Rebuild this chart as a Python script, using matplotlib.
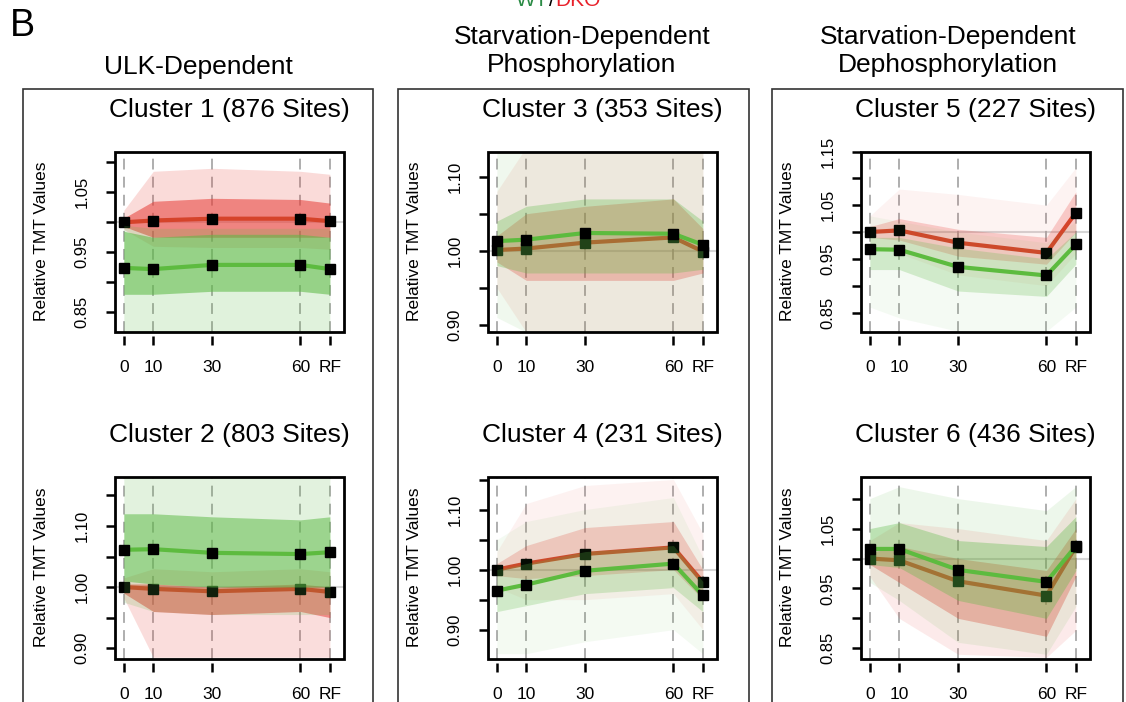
import numpy as np
import matplotlib.pyplot as plt
from matplotlib.patches import Rectangle

plt.rcParams['font.family'] = ['Liberation Sans', 'DejaVu Sans']

# time points (min of starvation, RF = refed) plotted on a numeric axis
time_pos = [0, 10, 30, 60, 70]
time_labels = ['0', '10', '30', '60', 'RF']

# --- cluster means (WT = green, DKO = red) ---
c1_wt = [0.924, 0.922, 0.929, 0.929, 0.922]
c1_dko = [1.000, 1.003, 1.006, 1.006, 1.002]
c2_wt = [1.061, 1.062, 1.056, 1.054, 1.057]
c2_dko = [1.000, 0.997, 0.993, 0.997, 0.992]
c3_wt = [1.013, 1.015, 1.024, 1.023, 1.008]
c3_dko = [1.001, 1.003, 1.011, 1.018, 0.999]
c4_wt = [0.965, 0.975, 0.998, 1.010, 0.957]
c4_dko = [1.000, 1.010, 1.026, 1.037, 0.979]
c5_wt = [0.968, 0.967, 0.935, 0.919, 0.977]
c5_dko = [1.000, 1.003, 0.980, 0.961, 1.036]
c6_wt = [1.016, 1.016, 0.981, 0.961, 1.021]
c6_dko = [1.000, 0.997, 0.962, 0.938, 1.020]

site_counts = [876, 803, 353, 231, 227, 436]

# --- rough spread of the individual site traces (lo, hi) ---
c1_wt_inner = ([0.880, 0.880, 0.885, 0.885, 0.880], [0.985, 0.975, 0.980, 0.980, 0.975])
c1_wt_outer = ([0.800, 0.800, 0.800, 0.800, 0.800], [0.995, 0.990, 0.990, 0.990, 0.990])
c1_dko_inner = ([0.993, 0.975, 0.975, 0.975, 0.975], [1.007, 1.035, 1.040, 1.038, 1.032])
c1_dko_outer = ([0.988, 0.960, 0.958, 0.958, 0.955], [1.020, 1.085, 1.090, 1.085, 1.080])

c2_wt_inner = ([1.010, 1.005, 1.000, 1.000, 1.000], [1.120, 1.120, 1.115, 1.110, 1.115])
c2_wt_outer = ([0.975, 0.960, 0.955, 0.955, 0.955], [1.190, 1.190, 1.190, 1.190, 1.190])
c2_dko_inner = ([0.990, 0.960, 0.955, 0.960, 0.950], [1.005, 1.005, 1.000, 1.005, 1.000])
c2_dko_outer = ([0.982, 0.885, 0.885, 0.885, 0.885], [1.015, 1.030, 1.025, 1.030, 1.025])

c3_wt_inner = ([0.980, 0.970, 0.970, 0.970, 0.975], [1.040, 1.060, 1.070, 1.070, 1.040])
c3_wt_outer = ([0.910, 0.890, 0.890, 0.890, 0.890], [1.140, 1.140, 1.140, 1.140, 1.140])
c3_dko_inner = ([0.985, 0.960, 0.960, 0.960, 0.970], [1.020, 1.050, 1.060, 1.070, 1.030])
c3_dko_outer = ([0.950, 0.890, 0.890, 0.890, 0.890], [1.080, 1.140, 1.140, 1.140, 1.140])

c4_wt_inner = ([0.930, 0.940, 0.960, 0.970, 0.930], [1.000, 1.010, 1.030, 1.040, 0.980])
c4_wt_outer = ([0.860, 0.860, 0.880, 0.900, 0.860], [1.050, 1.080, 1.100, 1.120, 1.020])
c4_dko_inner = ([0.990, 0.985, 0.990, 1.000, 0.950], [1.010, 1.040, 1.070, 1.080, 1.000])
c4_dko_outer = ([0.970, 0.950, 0.950, 0.960, 0.900], [1.030, 1.110, 1.140, 1.150, 1.060])

c5_wt_inner = ([0.930, 0.930, 0.890, 0.880, 0.940], [0.990, 0.990, 0.970, 0.950, 1.000])
c5_wt_outer = ([0.860, 0.840, 0.815, 0.815, 0.860], [1.030, 1.020, 1.000, 0.980, 1.020])
c5_dko_inner = ([0.990, 0.985, 0.955, 0.940, 1.000], [1.010, 1.025, 1.005, 0.990, 1.075])
c5_dko_outer = ([0.975, 0.960, 0.920, 0.900, 0.960], [1.030, 1.080, 1.070, 1.050, 1.120])

c6_wt_inner = ([0.990, 0.985, 0.930, 0.900, 0.980], [1.050, 1.060, 1.030, 1.020, 1.070])
c6_wt_outer = ([0.960, 0.930, 0.860, 0.840, 0.920], [1.100, 1.120, 1.100, 1.080, 1.120])
c6_dko_inner = ([0.990, 0.960, 0.900, 0.870, 0.970], [1.010, 1.020, 1.000, 0.980, 1.050])
c6_dko_outer = ([0.970, 0.900, 0.840, 0.835, 0.880], [1.030, 1.060, 1.050, 1.030, 1.100])

titles = ['Cluster 1 (876 Sites)', 'Cluster 2 (803 Sites)', 'Cluster 3 (353 Sites)',
          'Cluster 4 (231 Sites)', 'Cluster 5 (227 Sites)', 'Cluster 6 (436 Sites)']
group_titles = ['ULK-Dependent', 'Starvation-Dependent\nPhosphorylation',
                'Starvation-Dependent\nDephosphorylation']

GREEN = '#5cba45'
GREEN_MEAN = '#5dbb3f'
RED = '#e8403a'
RED_MEAN = '#d5432a'

W, H = 1126, 702
fig = plt.figure(figsize=(W / 100, H / 100), dpi=100)


def px_axes(left, top, width, height):
    return fig.add_axes([left / W, 1 - (top + height) / H, width / W, height / H])


def draw_panel(ax, wt, dko, wt_in, wt_out, dko_in, dko_out, ylim, yticks, ylabs, title, n):
    # bottom ticks sit a little below the box (set first: it resets the ticks)
    ax.spines['bottom'].set_position(('outward', 3))
    for s in ax.spines.values():
        s.set_visible(False)

    ax.set_xlim(-3, 74.8)
    ax.set_ylim(*ylim)
    ax.axhline(1.0, color='#d6d6d6', lw=1.5, zorder=0.5)
    for x in time_pos:
        ax.axvline(x, color='#a8a8a8', lw=1.3, ls=(0, (6, 4)), zorder=0.6)

    # more sites -> denser cloud of traces
    a_out = 0.02 + 0.17 * n / 876
    a_in = 0.12 + 0.44 * n / 876

    # DKO traces first, then WT on top (as in the original R plot)
    ax.fill_between(time_pos, dko_out[0], dko_out[1], color=RED, alpha=a_out, lw=0, zorder=1.0)
    ax.fill_between(time_pos, dko_in[0], dko_in[1], color=RED, alpha=a_in, lw=0, zorder=1.1)
    ax.plot(time_pos, dko, color=RED_MEAN, lw=3, zorder=1.3)
    ax.plot(time_pos, dko, ls='none', marker='s', ms=7.5, color='black', zorder=1.35)

    ax.fill_between(time_pos, wt_out[0], wt_out[1], color=GREEN, alpha=a_out, lw=0, zorder=1.5)
    ax.fill_between(time_pos, wt_in[0], wt_in[1], color=GREEN, alpha=a_in, lw=0, zorder=1.6)
    ax.plot(time_pos, wt, color=GREEN_MEAN, lw=3, zorder=1.8)
    ax.plot(time_pos, wt, ls='none', marker='s', ms=7.5, color='black', zorder=1.85)

    ax.set_xticks(time_pos)
    ax.set_xticklabels(time_labels, fontsize=12.5)
    ax.set_yticks(yticks)
    ax.set_yticklabels(ylabs, fontsize=12, rotation=90, va='center')
    ax.tick_params(axis='both', direction='out', length=6.5, width=1.8, color='black')
    ax.tick_params(axis='x', pad=11)
    ax.tick_params(axis='y', pad=12)

    ax.add_patch(Rectangle((0, 0), 1, 1, transform=ax.transAxes, fill=False,
                           lw=2, ec='black', zorder=5, clip_on=False))

    ax.text(-0.319, 0.5, 'Relative TMT Values', transform=ax.transAxes, rotation=90,
            ha='center', va='center', fontsize=12.5)
    ax.text(0.5, 1.0 + 41 / 180, title, transform=ax.transAxes, ha='center',
            va='center', fontsize=19)


col_left = [115, 488, 861]
row_top = [151.5, 476.5]
row_h = [180, 182]

panels = [
    (c1_wt, c1_dko, c1_wt_inner, c1_wt_outer, c1_dko_inner, c1_dko_outer,
     (0.818, 1.118), [0.85, 0.90, 0.95, 1.00, 1.05, 1.10], ['0.85', '', '0.95', '', '1.05', '']),
    (c2_wt, c2_dko, c2_wt_inner, c2_wt_outer, c2_dko_inner, c2_dko_outer,
     (0.883, 1.181), [0.90, 0.95, 1.00, 1.05, 1.10, 1.15], ['0.90', '', '1.00', '', '1.10', '']),
    (c3_wt, c3_dko, c3_wt_inner, c3_wt_outer, c3_dko_inner, c3_dko_outer,
     (0.891, 1.134), [0.90, 0.95, 1.00, 1.05, 1.10], ['0.90', '', '1.00', '', '1.10']),
    (c4_wt, c4_dko, c4_wt_inner, c4_wt_outer, c4_dko_inner, c4_dko_outer,
     (0.852, 1.155), [0.90, 0.95, 1.00, 1.05, 1.10, 1.15], ['0.90', '', '1.00', '', '1.10', '']),
    (c5_wt, c5_dko, c5_wt_inner, c5_wt_outer, c5_dko_inner, c5_dko_outer,
     (0.8146, 1.15), [0.85, 0.90, 0.95, 1.00, 1.05, 1.10, 1.15],
     ['0.85', '', '0.95', '', '1.05', '', '1.15']),
    (c6_wt, c6_dko, c6_wt_inner, c6_wt_outer, c6_dko_inner, c6_dko_outer,
     (0.833, 1.137), [0.85, 0.90, 0.95, 1.00, 1.05, 1.10], ['0.85', '', '0.95', '', '1.05', '']),
]

for i, p in enumerate(panels):
    col, row = i // 2, i % 2
    ax = px_axes(col_left[col], row_top[row], 229, row_h[row])
    draw_panel(ax, *p, titles[i], site_counts[i])

# column frames and headings
col_box = [(23, 373), (398, 749), (772, 1123)]
title_x = [198, 582, 948]
for (x0, x1), tx, gt in zip(col_box, title_x, group_titles):
    fig.patches.append(Rectangle((x0 / W, -0.05), (x1 - x0) / W, 0.05 + (H - 89) / H,
                                 transform=fig.transFigure, fill=False, lw=1.2,
                                 ec='#333333'))
    if '\n' in gt:
        fig.text(tx / W, 1 - 51 / H, gt, ha='center', va='center', fontsize=19,
                 linespacing=1.2)
    else:
        fig.text(tx / W, 1 - 67 / H, gt, ha='center', va='center', fontsize=19)

fig.text(10 / W, 1 - 25.5 / H, 'B', ha='left', va='center', fontsize=27)

# WT/DKO legend, cut by the top edge like the source figure
fig.text(548 / W, 1 - 6 / H, 'WT', color='#2a8b45', ha='right', va='baseline', fontsize=15)
fig.text(551.5 / W, 1 - 6 / H, '/', color='black', ha='center', va='baseline', fontsize=15)
fig.text(555 / W, 1 - 6 / H, 'DKO', color='#e8202a', ha='left', va='baseline', fontsize=15)

fig.savefig('out.png', dpi=100)
